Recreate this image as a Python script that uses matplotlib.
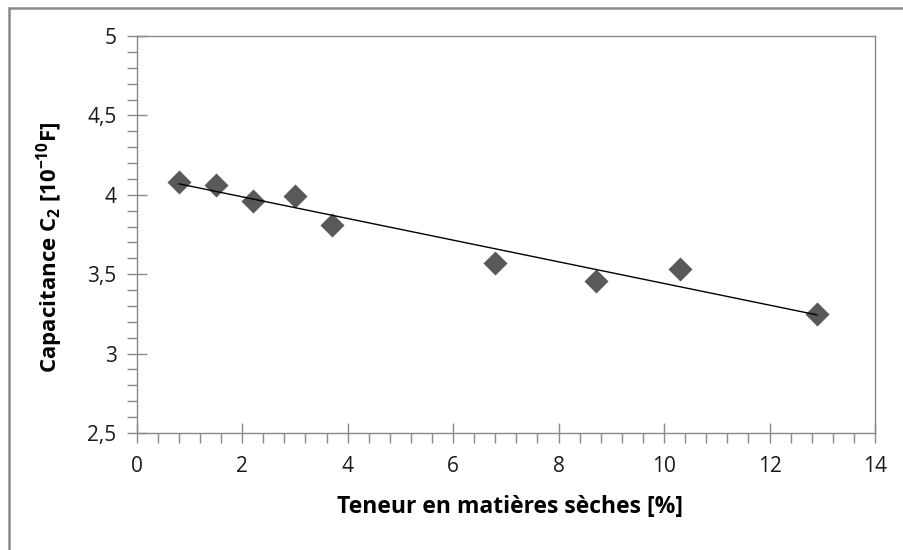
import numpy as np
import matplotlib
matplotlib.use("Agg")
import matplotlib.pyplot as plt
from matplotlib.patches import Rectangle
from matplotlib.ticker import MultipleLocator, FuncFormatter

# Data
dry_matter = [0.8, 1.5, 2.2, 3.0, 3.7, 6.8, 8.7, 10.3, 12.9]
capacitance = [4.08, 4.06, 3.96, 3.99, 3.81, 3.57, 3.46, 3.53, 3.25]

x_ticks = [0, 2, 4, 6, 8, 10, 12, 14]
y_ticks = [2.5, 3, 3.5, 4, 4.5, 5]

plt.rcParams['font.family'] = ['Open Sans', 'DejaVu Sans']
plt.rcParams['mathtext.fontset'] = 'custom'
plt.rcParams['mathtext.bf'] = 'Open Sans:bold'
plt.rcParams['mathtext.rm'] = 'Open Sans:bold'
plt.rcParams['mathtext.default'] = 'bf'

W, H = 904, 550
fig = plt.figure(figsize=(W / 100, H / 100), dpi=100)
ax = fig.add_axes([136.7 / W, 1 - 433 / H, (875 - 136.7) / W, (433 - 36) / H])

# Chart frame (clipped by the image on the right and bottom)
fig.patches.append(Rectangle((9 / W, -0.1), 1.2, 1 - 8 / H + 0.1, transform=fig.transFigure,
                             fill=False, edgecolor='#8a8a8a', linewidth=1.8))

grey = '#898989'
ax.scatter(dry_matter, capacitance, marker='D', s=150, color='#595959', zorder=3, linewidths=0)

# Linear trendline
slope, intercept = np.polyfit(dry_matter, capacitance, 1)
xs = np.array([min(dry_matter), max(dry_matter)])
ax.plot(xs, slope * xs + intercept, color='black', linewidth=1.0, zorder=4)

ax.set_xlim(0, 14)
ax.set_ylim(2.5, 5)
ax.set_xticks(x_ticks)
ax.set_yticks(y_ticks)
ax.xaxis.set_minor_locator(MultipleLocator(0.4))
ax.yaxis.set_minor_locator(MultipleLocator(0.1))

comma = FuncFormatter(lambda v, p: ('%g' % v).replace('.', ','))
ax.xaxis.set_major_formatter(comma)
ax.yaxis.set_major_formatter(comma)

for s in ax.spines.values():
    s.set_color(grey)
    s.set_linewidth(1.0)

ax.tick_params(which='major', direction='inout', length=15, width=1, color=grey,
               labelsize=15, labelcolor='#1a1a1a')
ax.tick_params(axis='x', which='major', pad=9)
ax.tick_params(axis='y', which='major', pad=7)
ax.tick_params(which='minor', direction='out', length=7, width=1, color=grey)

ax.set_xlabel('Teneur en matières sèches [%]', fontsize=16.5, fontweight='bold')
ax.set_ylabel(r'Capacitance C$_{2}$ [10$^{-10}$F]', fontsize=16, fontweight='bold')
ax.xaxis.set_label_coords(0.505, -0.155)
ax.yaxis.set_label_coords(-0.097, 0.468)

fig.savefig('out.png', dpi=100)
